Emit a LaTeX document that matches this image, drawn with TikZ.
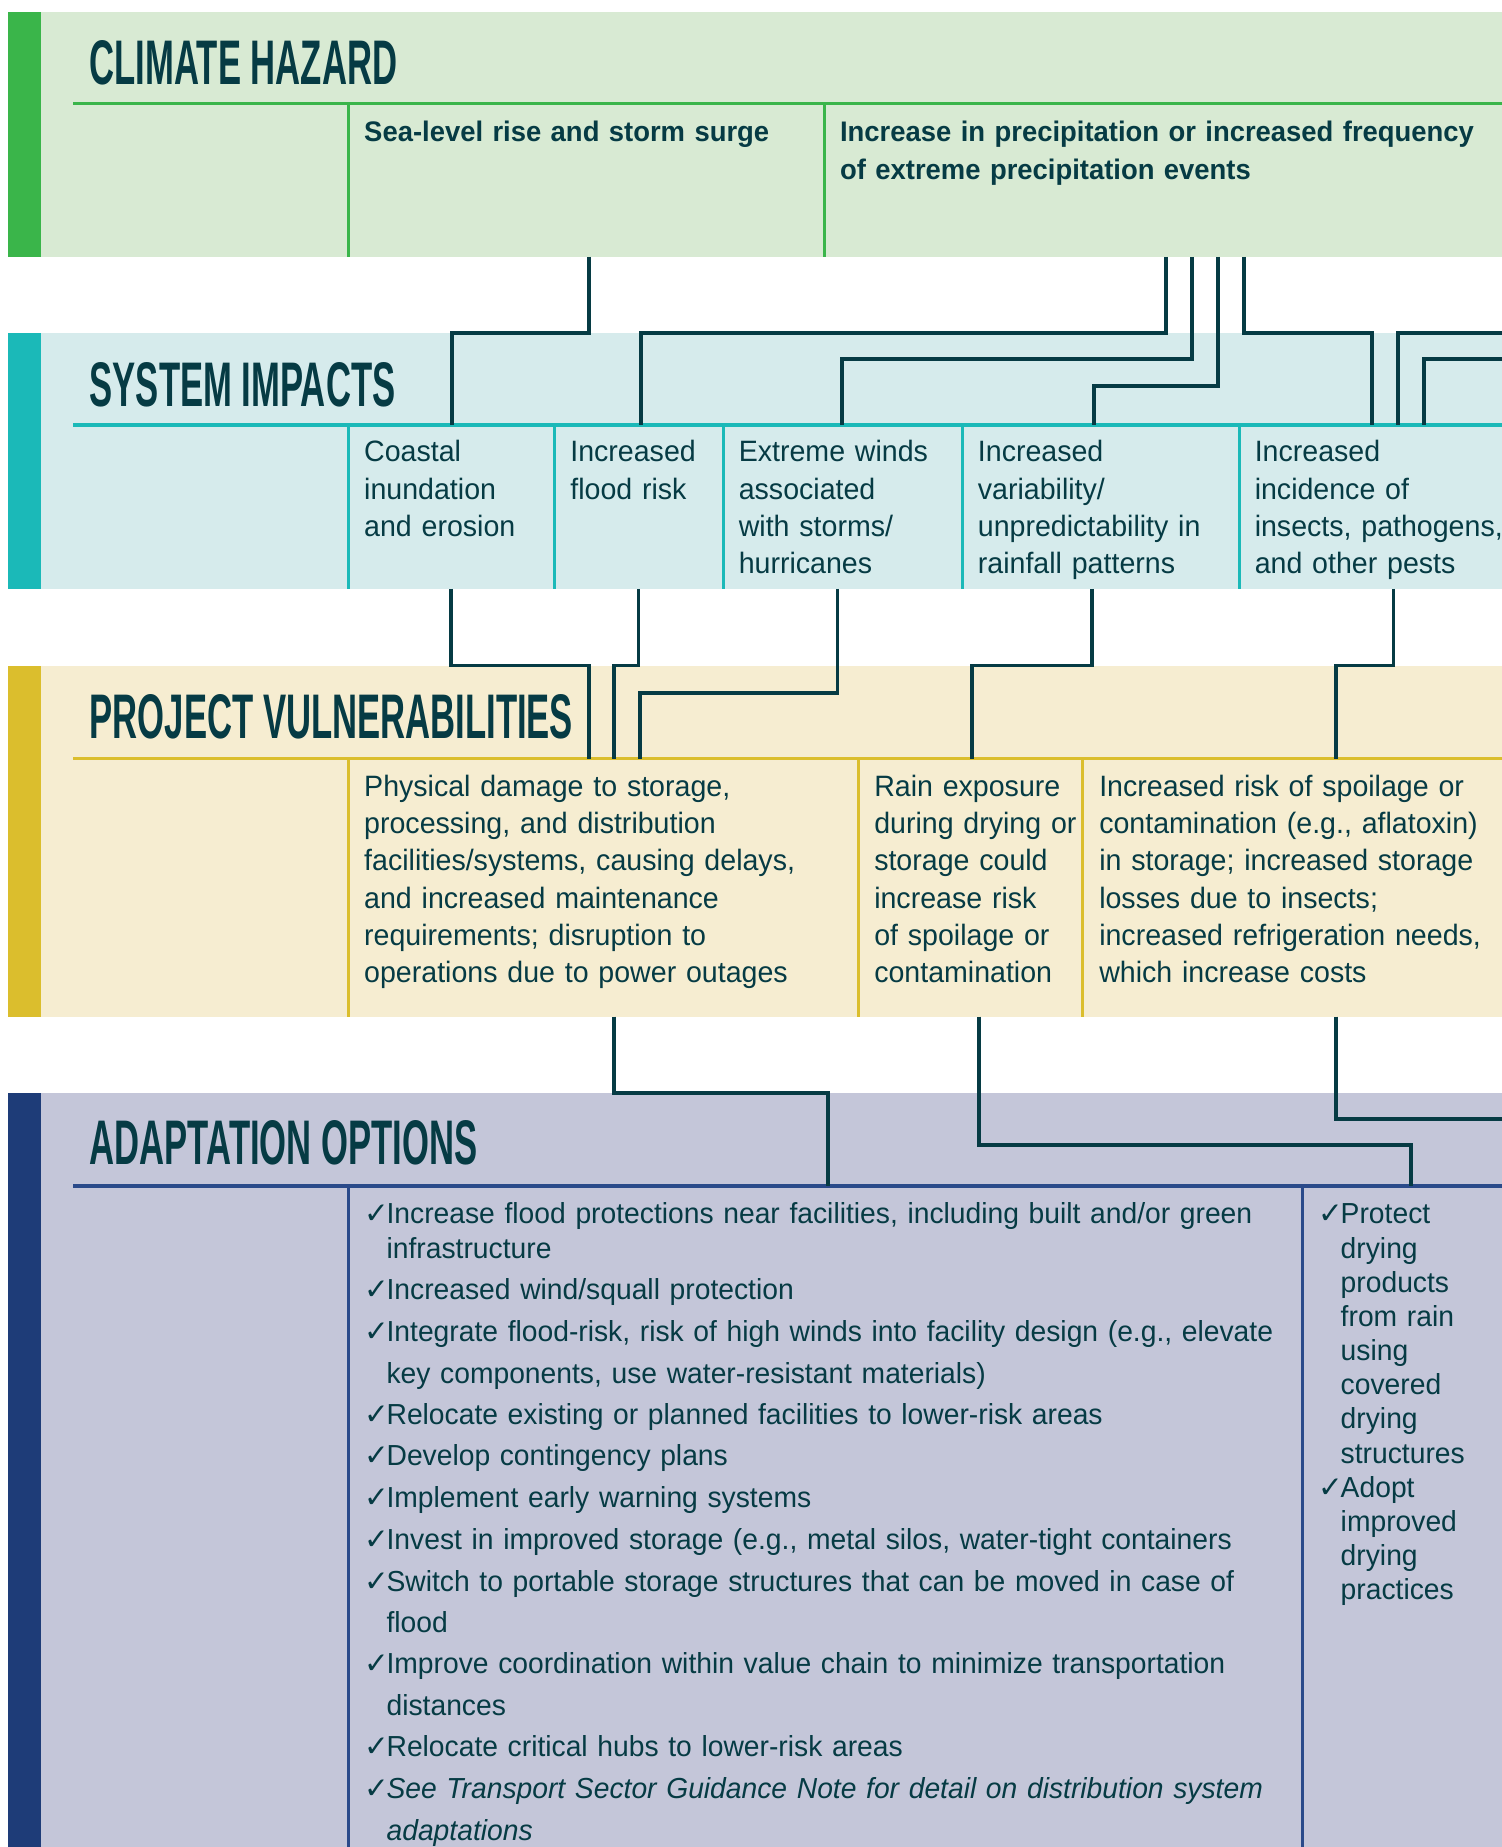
\documentclass[tikz,border=0pt]{standalone}
\usepackage{fontspec}
\setmainfont{Liberation Sans}
\newfontfamily\titlef[FakeStretch=0.55]{Liberation Sans}
\newfontfamily\cellf[FakeStretch=0.97]{Liberation Sans}
\newfontfamily\boldf[FakeStretch=0.97]{Liberation Sans}
\newfontfamily\listf[FakeStretch=0.975]{Liberation Sans}
\newfontfamily\chkf{DejaVu Sans}
\definecolor{dark}{HTML}{063B44}
\definecolor{bgA}{HTML}{D8EAD3}
\definecolor{acA}{HTML}{3AB54A}
\definecolor{bgB}{HTML}{D6EBEC}
\definecolor{acB}{HTML}{1BB9B8}
\definecolor{bgC}{HTML}{F6EDD1}
\definecolor{acC}{HTML}{DBBE2D}
\definecolor{bgD}{HTML}{C4C6D9}
\definecolor{acD}{HTML}{1E3C78}
\definecolor{lnD}{HTML}{2A4A8A}
\newcommand{\chk}{\makebox[19pt][l]{\chkf\fontsize{25}{25}\selectfont ✓}}
\newcommand{\ind}{\hspace*{19pt}}
\begin{document}
\begin{tikzpicture}[x=1pt,y=-1pt,
  conn/.style={draw=dark,line width=3.2pt,line join=miter},
  hline/.style={line width=3pt},
  vline/.style={line width=2.5pt},
  bandtitle/.style={anchor=base west,inner sep=0pt,text=dark,font=\titlef\bfseries\fontsize{53.5}{53.5}\selectfont},
  hzcell/.style={anchor=base west,inner sep=0pt,text=dark,text width=560pt,align=left,font=\boldf\bfseries\fontsize{24}{32}\selectfont},
  cell/.style={anchor=base west,inner sep=0pt,text=dark,text width=400pt,align=left,font=\cellf\fontsize{25}{31.7}\selectfont},
  item/.style={anchor=base west,inner sep=0pt,text=dark,text width=800pt,align=left,font=\listf\fontsize{24.6}{35.3}\selectfont},
  itemb/.style={anchor=base west,inner sep=0pt,text=dark,text width=160pt,align=left,font=\listf\fontsize{24.6}{29}\selectfont}
]
\useasboundingbox (0,0) rectangle (1275,1568);
\fill[white] (0,0) rectangle (1275,1568);

% ---------- band A : climate hazard
\fill[bgA] (7,10) rectangle (1275,218);
\fill[acA] (7,10) rectangle (35,218);
\draw[acA,hline] (62,88) -- (1275,88);
\draw[acA,vline] (296,88) -- (296,218);
\draw[acA,vline] (700,88) -- (700,218);
\node[bandtitle] (tA) at (76,72) {CLIMATE HAZARD};
\node[hzcell] (hzSea) at (309,120) {Sea-level rise and storm surge};
\node[hzcell] (hzPrec) at (713,120) {Increase in precipitation or increased frequency\\of extreme precipitation events};

% ---------- band B : system impacts
\fill[bgB] (7,283) rectangle (1275,500);
\fill[acB] (7,283) rectangle (35,500);
\draw[acB,hline] (62,361) -- (1275,361);
\foreach \xx in {296,471,614,817,1052} \draw[acB,vline] (\xx,361) -- (\xx,500);
\node[bandtitle] (tB) at (76,345) {SYSTEM IMPACTS};
\node[cell] (siCoast) at (309,392) {Coastal\\inundation\\and erosion};
\node[cell] (siFlood) at (484,392) {Increased\\flood risk};
\node[cell] (siWind) at (627,392) {Extreme winds\\associated\\with storms/\\hurricanes};
\node[cell] (siRain) at (830,392) {Increased\\variability/\\unpredictability in\\rainfall patterns};
\node[cell] (siPest) at (1065,392) {Increased\\incidence of\\insects, pathogens,\\and other pests};

% ---------- band C : project vulnerabilities
\fill[bgC] (7,565) rectangle (1275,863);
\fill[acC] (7,565) rectangle (35,863);
\draw[acC,hline] (62,644) -- (1275,644);
\foreach \xx in {296,729,919} \draw[acC,vline] (\xx,644) -- (\xx,863);
\node[bandtitle] (tC) at (76,627) {PROJECT VULNERABILITIES};
\node[cell] (pvDamage) at (309,676) {Physical damage to storage,\\processing, and distribution\\facilities/systems, causing delays,\\and increased maintenance\\requirements; disruption to\\operations due to power outages};
\node[cell] (pvRain) at (742,676) {Rain exposure\\during drying or\\storage could\\increase risk\\of spoilage or\\contamination};
\node[cell] (pvSpoil) at (933,676) {Increased risk of spoilage or\\contamination (e.g., aflatoxin)\\in storage; increased storage\\losses due to insects;\\increased refrigeration needs,\\which increase costs};

% ---------- band D : adaptation options
\fill[bgD] (7,928) rectangle (1275,1568);
\fill[acD] (7,928) rectangle (35,1568);
\draw[lnD,hline] (62,1007) -- (1275,1007);
\draw[lnD,vline] (296,1007) -- (296,1568);
\draw[lnD,vline] (1106,1007) -- (1106,1568);
\node[bandtitle] (tD) at (76,989) {ADAPTATION OPTIONS};
\node[itemb,text width=800pt] (ao1) at (309,1039) {\chk Increase flood protections near facilities, including built and/or green\\\ind infrastructure};
\node[item] (ao2) at (309,1103) {\chk Increased wind/squall protection};
\node[item] (ao3) at (309,1139) {\chk Integrate flood-risk, risk of high winds into facility design (e.g., elevate\\\ind key components, use water-resistant materials)};
\node[item] (ao4) at (309,1209) {\chk Relocate existing or planned facilities to lower-risk areas};
\node[item] (ao5) at (309,1244) {\chk Develop contingency plans};
\node[item] (ao6) at (309,1280) {\chk Implement early warning systems};
\node[item] (ao7) at (309,1315) {\chk Invest in improved storage (e.g., metal silos, water-tight containers};
\node[item] (ao8) at (309,1351) {\chk Switch to portable storage structures that can be moved in case of\\\ind flood};
\node[item] (ao9) at (309,1421) {\chk Improve coordination within value chain to minimize transportation\\\ind distances};
\node[item] (ao10) at (309,1491) {\chk Relocate critical hubs to lower-risk areas};
\node[item] (ao11) at (309,1527) {\chk \textit{See Transport Sector Guidance Note for detail on distribution system}\\\ind \textit{adaptations}};
\node[itemb] (ab1) at (1119,1039) {\chk Protect\\\ind drying\\\ind products\\\ind from rain\\\ind using\\\ind covered\\\ind drying\\\ind structures};
\node[itemb] (ab2) at (1119,1271) {\chk Adopt\\\ind improved\\\ind drying\\\ind practices};

% ---------- connector end points
\coordinate (gA1) at (0,283); \coordinate (gA2) at (0,305); \coordinate (gA3) at (0,328);
\coordinate (gB1) at (0,565); \coordinate (gB2) at (0,588);
\coordinate (gC1) at (0,928); \coordinate (gC2) at (0,950); \coordinate (gC3) at (0,972);
% hazard outputs
\coordinate (oSea) at (500,218);
\coordinate (oP1) at (990,218); \coordinate (oP2) at (1012,218);
\coordinate (oP3) at (1034,218); \coordinate (oP4) at (1056,218);
\coordinate (rA1) at (1275,283); \coordinate (rA2) at (1275,305);
% impact inputs
\coordinate (iCoast) at (384,361); \coordinate (iFlood) at (544,361);
\coordinate (iWind) at (715,361); \coordinate (iRain) at (929,361);
\coordinate (iPest1) at (1165,361); \coordinate (iPest2) at (1187,361); \coordinate (iPest3) at (1209,361);
% impact outputs
\coordinate (oCoast) at (383,500); \coordinate (oFlood) at (542,500);
\coordinate (oWind) at (711,500); \coordinate (oRain) at (927,500); \coordinate (oPest) at (1183,500);
% vulnerability inputs
\coordinate (iDam1) at (500,644); \coordinate (iDam2) at (521,644); \coordinate (iDam3) at (543,644);
\coordinate (iRainEx) at (825,644); \coordinate (iSpoil) at (1134,644);
% vulnerability outputs
\coordinate (oDam) at (521,863); \coordinate (oRainEx) at (831,863); \coordinate (oSpoil) at (1134,863);
\coordinate (rC) at (1275,950);
% adaptation inputs
\coordinate (iAo) at (703,1007); \coordinate (iAb) at (1198,1007);

% ---------- connectors
\draw[conn] (oSea) -- (oSea |- gA1) -| (iCoast);
\draw[conn] (oP1) -- (oP1 |- gA1) -| (iFlood);
\draw[conn] (oP2) -- (oP2 |- gA2) -| (iWind);
\draw[conn] (oP3) -- (oP3 |- gA3) -| (iRain);
\draw[conn] (oP4) -- (oP4 |- gA1) -| (iPest1);
\draw[conn] (rA1) -| (iPest2);
\draw[conn] (rA2) -| (iPest3);

\draw[conn] (oCoast) -- (oCoast |- gB1) -| (iDam1);
\draw[conn] (oFlood) -- (oFlood |- gB1) -| (iDam2);
\draw[conn] (oWind) -- (oWind |- gB2) -| (iDam3);
\draw[conn] (oRain) -- (oRain |- gB1) -| (iRainEx);
\draw[conn] (oPest) -- (oPest |- gB1) -| (iSpoil);

\draw[conn] (oDam) -- (oDam |- gC1) -| (iAo);
\draw[conn] (oRainEx) -- (oRainEx |- gC3) -| (iAb);
\draw[conn] (oSpoil) |- (rC);
\end{tikzpicture}
\end{document}
